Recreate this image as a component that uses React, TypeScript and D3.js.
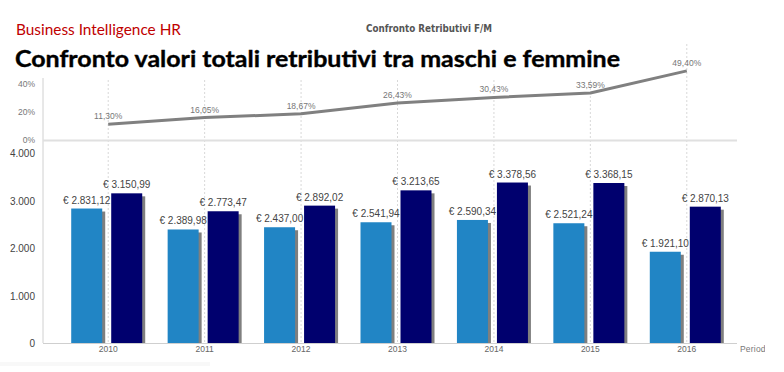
import React from 'react';
import * as d3 from 'd3';

// data
const years = ['2010', '2011', '2012', '2013', '2014', '2015', '2016'];
const femmine = [2831.12, 2389.98, 2437.0, 2541.94, 2590.34, 2521.24, 1921.1];
const maschi = [3150.99, 2773.47, 2892.02, 3213.65, 3378.56, 3368.15, 2870.13];
const diffPct = [11.3, 16.05, 18.67, 26.43, 30.43, 33.59, 49.4];
const barTicks = [0, 1000, 2000, 3000, 4000];
const pctTicks = [0, 20, 40];

const W = 784;
const H = 372;
const FONT = '"Liberation Sans", Arial, sans-serif';

const itNum = d3.formatLocale({
  decimal: ',',
  thousands: '.',
  grouping: [3],
  currency: ['€ ', ''],
});
const fmtEuro = itNum.format(',.2f');
const fmtTick = itNum.format(',.0f');
const fmtPct = itNum.format('.2f');

export default function App() {
  const left = 43;
  const right = 737;
  const x = d3.scaleBand().domain(years).range([60, 735]);
  const sub = d3
    .scaleBand()
    .domain(['F', 'M'])
    .range([0, 71])
    .paddingInner(0.225);
  const yBar = d3.scaleLinear().domain([0, 4000]).range([343, 153]);
  const yPct = d3.scaleLinear().domain([0, 20]).range([140, 112]);

  const cx = (y: string) => (x(y) as number) + x.bandwidth() / 2;

  const line = d3
    .line<number>()
    .x((_, i) => cx(years[i]))
    .y((d) => yPct(d));

  const bw = sub.bandwidth();

  return (
    <svg
      width={W}
      height={H}
      style={{ position: 'absolute', left: 0, top: 0, background: '#fff' }}
      fontFamily={FONT}
    >
      <defs>
        <clipPath id="clipR">
          <rect x={0} y={0} width={765} height={H} />
        </clipPath>
      </defs>

      {/* vertical dashed grid */}
      {years.map((y) => (
        <line
          key={'g' + y}
          x1={cx(y)}
          x2={cx(y)}
          y1={44}
          y2={343}
          stroke="#d8d8d8"
          strokeDasharray="2,2"
        />
      ))}

      {/* axis lines */}
      <line x1={left} x2={left} y1={44} y2={343} stroke="#d0d0d0" />
      <line x1={left} x2={right} y1={140.5} y2={140.5} stroke="#e0e0e0" strokeWidth={2} />
      <line x1={left} x2={right} y1={343.5} y2={343.5} stroke="#cfcfcf" />

      {/* percentage axis labels */}
      {pctTicks.map((t) => (
        <text
          key={'p' + t}
          x={35}
          y={yPct(t) + 3}
          textAnchor="end"
          fontSize={8.5}
          fill="#777"
        >
          {t}%
        </text>
      ))}

      {/* bar axis labels */}
      {barTicks.map((t) => (
        <text
          key={'b' + t}
          x={35}
          y={yBar(t) + 4}
          textAnchor="end"
          fontSize={10}
          fill="#444"
        >
          {fmtTick(t)}
        </text>
      ))}

      {/* bars */}
      {years.map((y, i) => {
        const x0 = cx(y) - 37;
        const vals = [
          { k: 'F', v: femmine[i], c: '#2185c5' },
          { k: 'M', v: maschi[i], c: '#00006e' },
        ];
        return (
          <g key={'bars' + y}>
            {vals.map((d) => {
              const bx = x0 + (sub(d.k) as number);
              const top = yBar(d.v);
              return (
                <g key={d.k}>
                  <rect
                    x={bx + 3}
                    y={top + 3}
                    width={bw}
                    height={343 - top - 3}
                    fill="#7f7f7f"
                  />
                  <rect x={bx} y={top} width={bw} height={343 - top} fill={d.c} />
                  <text
                    x={bx + bw / 2}
                    y={top - 5}
                    textAnchor="middle"
                    fontSize={10}
                    fill="#444"
                  >
                    {'€ ' + fmtEuro(d.v)}
                  </text>
                </g>
              );
            })}
          </g>
        );
      })}

      {/* year labels */}
      {years.map((y) => (
        <text
          key={'x' + y}
          x={cx(y)}
          y={352}
          textAnchor="middle"
          fontSize={8.5}
          fill="#666"
        >
          {y}
        </text>
      ))}
      <text
        x={740}
        y={352}
        fontSize={8.5}
        fill="#777"
        letterSpacing={0.2}
        clipPath="url(#clipR)"
      >
        Periodo
      </text>

      {/* white box behind the page titles */}
      <rect x={0} y={38} width={630} height={40} fill="#fff" />

      {/* percentage line */}
      <path
        d={line(diffPct) || ''}
        fill="none"
        stroke="#808080"
        strokeWidth={3}
        strokeLinejoin="round"
      />
      {diffPct.map((d, i) => (
        <text
          key={'l' + i}
          x={cx(years[i])}
          y={yPct(d) - 5}
          textAnchor="middle"
          fontSize={8.5}
          fill="#777"
        >
          {fmtPct(d)}%
        </text>
      ))}

      {/* titles */}
      <text
        x={366}
        y={32}
        fontSize={10}
        fontWeight="bold"
        fill="#555"
        fontFamily="'DejaVu Sans', sans-serif"
        textLength={126}
        lengthAdjust="spacingAndGlyphs"
      >
        Confronto Retributivi F/M
      </text>
      <text
        x={16}
        y={35}
        fontSize={15.5}
        fill="#c00000"
        fontFamily="Lato, sans-serif"
        textLength={165}
        lengthAdjust="spacingAndGlyphs"
      >
        Business Intelligence HR
      </text>
      <text
        x={15}
        y={67}
        fontSize={23.5}
        fontWeight="bold"
        fill="#000"
        fontFamily="Lato, sans-serif"
        stroke="#000"
        strokeWidth={0.4}
        textLength={605}
        lengthAdjust="spacingAndGlyphs"
      >
        Confronto valori totali retributivi tra maschi e femmine
      </text>
      <rect x={0} y={362} width={210} height={4} fill="#f8f8f8" />
    </svg>
  );
}
